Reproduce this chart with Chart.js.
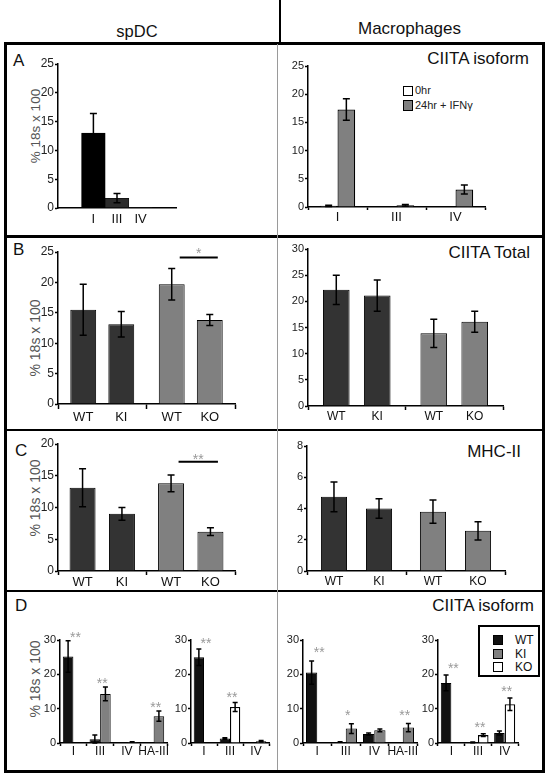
<!DOCTYPE html>
<html>
<head>
<meta charset="utf-8">
<script src="https://cdn.jsdelivr.net/npm/chart.js@4.4.0/dist/chart.umd.min.js"></script>
<style>
  html, body { margin: 0; padding: 0; background: #fff; }
  #fig { position: relative; width: 550px; height: 783px; overflow: hidden; background: #fff;
         font-family: "Liberation Sans", Arial, Helvetica, sans-serif; }
  .ln { position: absolute; background: #000; }
  .tx { position: absolute; white-space: nowrap; color: #111; }
  .sw { position: absolute; box-sizing: border-box; border: 1.5px solid #000; }
  canvas { position: absolute; }
</style>
</head>
<body>
<div id="fig"></div>
<script>
// ---------------- DATA ----------------
// Panel A: CIITA isoforms
const isoformsA = ['I', 'III', 'IV'];
const spdcIsoform = [13.0, 1.7, 0.1];
const spdcIsoformErr = [3.4, 0.8, 0];
const timeLabels = ['0hr', '24hr + IFNγ'];
const macIsoform0hr = [0.2, 0.1, 0.1];
const macIsoform0hrErr = [0.1, 0, 0];
const macIsoform24hr = [17.3, 0.3, 3.1];
const macIsoform24hrErr = [1.9, 0.15, 0.8];

// Panels B & C: WT / KI / WT / KO
const genotypes = ['WT', 'KI', 'WT', 'KO'];
const spdcTotal = [15.5, 13.1, 19.7, 13.8];
const spdcTotalErr = [4.2, 2.1, 2.6, 0.9];
const macTotal = [22.2, 21.1, 13.9, 16.1];
const macTotalErr = [2.8, 3.0, 2.7, 2.0];
const spdcMHC = [13.1, 9.0, 13.8, 6.2];
const spdcMHCErr = [3.0, 1.0, 1.3, 0.6];
const macMHC = [4.75, 4.0, 3.8, 2.57];
const macMHCErr = [0.95, 0.62, 0.75, 0.58];

// Panel D: isoforms in WT vs KI / WT vs KO
const isoformsKI = ['I', 'III', 'IV', 'HA-III'];
const isoformsKO = ['I', 'III', 'IV'];
const legendD = ['WT', 'KI', 'KO'];
const spdcKI_WT = [25.2, 1.1, 0.3, 0.1];
const spdcKI_WTErr = [4.6, 1.2, 0, 0];
const spdcKI_KI = [0.1, 14.3, 0.3, 7.8];
const spdcKI_KIErr = [0, 2.0, 0.1, 1.5];
const spdcKI_stars = ['**', '**', '', '**'];
const spdcKO_WT = [25.0, 1.3, 0.1];
const spdcKO_WTErr = [2.4, 0.2, 0];
const spdcKO_KO = [0.1, 10.5, 0.5];
const spdcKO_KOErr = [0, 1.3, 0.2];
const spdcKO_stars = ['**', '**', ''];
const macKI_WT = [20.5, 0.3, 2.6, 0];
const macKI_WTErr = [3.4, 0.1, 0.3, 0];
const macKI_KI = [0, 4.2, 3.7, 4.5];
const macKI_KIErr = [0, 1.4, 0.4, 1.2];
const macKI_stars = ['**', '*', '', '**'];
const macKO_WT = [17.5, 0.2, 2.9];
const macKO_WTErr = [2.3, 0.1, 0.6];
const macKO_KO = [0, 2.3, 11.3];
const macKO_KOErr = [0, 0.4, 1.8];
const macKO_stars = ['**', '**', '**'];

// ---------------- STYLE ----------------
const FONT = '"Liberation Sans", Arial, Helvetica, sans-serif';
const BLACK = '#111111', DARK = '#333333', GRAY = '#808080', WHITE = '#ffffff';
const STAR = '#999999';
const FIG = document.getElementById('fig');

function line(x, y, w, h, color) {
  const d = document.createElement('div');
  d.className = 'ln';
  d.style.cssText = `left:${x}px;top:${y}px;width:${w}px;height:${h}px;` + (color ? `background:${color};` : '');
  FIG.appendChild(d);
}
function text(str, x, y, size, align, color, rotate) {
  const d = document.createElement('div');
  d.className = 'tx';
  d.textContent = str;
  let css = `font-size:${size}px;line-height:${size}px;height:${size}px;top:${y - size / 2}px;`;
  if (color) css += `color:${color};`;
  if (rotate) {
    css = `font-size:${size}px;line-height:${size}px;left:${x}px;top:${y}px;transform:translate(-50%,-50%) rotate(-90deg);` + (color ? `color:${color};` : '');
  } else if (align === 'right') css += `right:${550 - x}px;`;
  else if (align === 'center') css += `left:${x}px;transform:translateX(-50%);`;
  else css += `left:${x}px;`;
  d.style.cssText = css;
  FIG.appendChild(d);
}
function swatch(x, y, w, h, color, bw) {
  const d = document.createElement('div');
  d.className = 'sw';
  d.style.cssText = `left:${x}px;top:${y}px;width:${w}px;height:${h}px;background:${color};` + (bw ? `border-width:${bw}px;` : '');
  FIG.appendChild(d);
}

// ---------------- PLUGINS ----------------
const errorBarPlugin = {
  id: 'errorBars',
  afterDatasetsDraw(chart, args, opts) {
    const ctx = chart.ctx, y = chart.scales.y;
    const cap = opts.cap || 3.5;
    ctx.save();
    ctx.strokeStyle = '#000';
    ctx.lineWidth = opts.width || 1.5;
    chart.data.datasets.forEach((ds, di) => {
      if (!ds.errors) return;
      chart.getDatasetMeta(di).data.forEach((bar, i) => {
        const v = ds.data[i], e = ds.errors[i];
        if (v == null || !e) return;
        const x = bar.x;
        const yt = y.getPixelForValue(v + e), yb = y.getPixelForValue(Math.max(0, v - e));
        ctx.beginPath();
        ctx.moveTo(x, yt); ctx.lineTo(x, yb);
        ctx.moveTo(x - cap, yt); ctx.lineTo(x + cap, yt);
        ctx.moveTo(x - cap, yb); ctx.lineTo(x + cap, yb);
        ctx.stroke();
      });
    });
    ctx.restore();
  }
};

// labels under each individual bar (grouped WT/KI, WT/KO charts)
const barLabelPlugin = {
  id: 'barLabels',
  afterDraw(chart, args, opts) {
    if (!opts.labels) return;
    const ctx = chart.ctx;
    const nG = chart.data.labels.length, nD = chart.data.datasets.length;
    ctx.save();
    ctx.font = `${opts.size}px ${FONT}`;
    ctx.fillStyle = '#111';
    ctx.textAlign = 'center';
    ctx.textBaseline = 'middle';
    for (let g = 0; g < nG; g++) {
      for (let d = 0; d < nD; d++) {
        const bar = chart.getDatasetMeta(d).data[g];
        ctx.fillText(opts.labels[g * nD + d], bar.x, chart.chartArea.bottom + opts.offset);
      }
    }
    ctx.restore();
  }
};

// significance bracket between two bars
const sigPlugin = {
  id: 'sig',
  afterDatasetsDraw(chart, args, opts) {
    if (!opts.marks) return;
    const ctx = chart.ctx, y = chart.scales.y;
    ctx.save();
    opts.marks.forEach(m => {
      const b1 = chart.getDatasetMeta(m.from[0]).data[m.from[1]];
      const b2 = chart.getDatasetMeta(m.to[0]).data[m.to[1]];
      const py = y.getPixelForValue(m.value);
      const x1 = b1.x + opts.shift, x2 = b2.x + opts.shift;
      ctx.strokeStyle = '#000';
      ctx.lineWidth = 2;
      ctx.beginPath(); ctx.moveTo(x1, py); ctx.lineTo(x2, py); ctx.stroke();
      ctx.font = `14px ${FONT}`;
      ctx.fillStyle = STAR;
      ctx.textAlign = 'center';
      ctx.textBaseline = 'alphabetic';
      ctx.fillText(m.text, (x1 + x2) / 2, py - opts.gap + 0.58 * 14);
    });
    ctx.restore();
  }
};

// asterisks above each category
const starPlugin = {
  id: 'stars',
  afterDatasetsDraw(chart, args, opts) {
    if (!opts.stars) return;
    const ctx = chart.ctx, xs = chart.scales.x, ys = chart.scales.y;
    ctx.save();
    ctx.font = `14px ${FONT}`;
    ctx.fillStyle = STAR;
    ctx.textAlign = 'center';
    ctx.textBaseline = 'alphabetic';
    opts.stars.forEach((s, i) => {
      if (!s) return;
      let top = Infinity;
      chart.data.datasets.forEach(ds => {
        const v = ds.data[i];
        if (v == null) return;
        const e = ds.errors ? (ds.errors[i] || 0) : 0;
        top = Math.min(top, ys.getPixelForValue(v + e));
      });
      ctx.fillText(s, xs.getPixelForValue(i) + 2, top - opts.gap + 0.58 * 14);
    });
    ctx.restore();
  }
};

function addChart(spec) {
  const yw = 30, pt = 10, pr = 12, xh = spec.xh || 24;
  const left = spec.axisL - yw, top = spec.yTop - pt;
  const w = spec.axisR + pr - left, h = spec.yBot + xh - top;
  const cv = document.createElement('canvas');
  cv.width = w; cv.height = h;
  cv.style.cssText = `left:${left}px;top:${top}px;width:${w}px;height:${h}px;`;
  FIG.appendChild(cv);
  spec.datasets.forEach(ds => {
    ds.categoryPercentage = spec.catPct;
    ds.barPercentage = spec.barPct;
    ds.borderColor = '#000';
    ds.borderWidth = ds.borderWidth || 1;
  });
  return new Chart(cv.getContext('2d'), {
    type: 'bar',
    data: { labels: spec.labels, datasets: spec.datasets },
    options: {
      responsive: false, animation: false, devicePixelRatio: 1,
      layout: { padding: { left: 0, top: pt, right: pr, bottom: 0 } },
      plugins: {
        legend: { display: false }, tooltip: { enabled: false },
        errorBars: { cap: spec.cap || 3.5 },
        barLabels: spec.barLabels || {},
        sig: spec.sig || {},
        stars: spec.stars || {}
      },
      scales: {
        x: {
          z: 1, offset: true,
          grid: { display: true, offset: true, drawOnChartArea: false, drawTicks: spec.xTick > 0,
                  tickLength: spec.xTick || 0, tickColor: '#000', tickWidth: 1.5 },
          border: { display: true, color: '#000', width: 1.5 },
          ticks: { display: spec.showX !== false, autoSkip: false, maxRotation: 0, minRotation: 0,
                   padding: spec.xPad || 0, color: '#111', font: { family: FONT, size: spec.xFont || 12 } },
          afterFit(s) { s.height = xh; }
        },
        y: {
          z: 1, min: 0, max: spec.max,
          grid: { display: true, drawOnChartArea: false, drawTicks: true, tickLength: 3, tickColor: '#000', tickWidth: 1.5 },
          border: { display: true, color: '#000', width: 1.5 },
          ticks: { stepSize: spec.step, padding: 1, color: '#222', font: { family: FONT, size: spec.yFont || 12 } },
          afterFit(s) { s.width = yw; }
        }
      }
    },
    plugins: [errorBarPlugin, barLabelPlugin, sigPlugin, starPlugin]
  });
}

// grouped datasets from a 4-value genotype array: [WT, mutant] x [KI group, KO group]
function pairSets(vals, errs) {
  return [
    { data: [vals[0], vals[2]], errors: [errs[0], errs[2]], backgroundColor: [DARK, GRAY] },
    { data: [vals[1], vals[3]], errors: [errs[1], errs[3]], backgroundColor: [DARK, GRAY] }
  ];
}
const groups = ['knock-in', 'knock-out'];

// ---------------- FRAME & TEXT ----------------
line(279, 0, 2, 42);
line(4, 42, 541, 2.5);
line(4, 42, 2.5, 730);
line(542.3, 42, 2.5, 730);
line(4, 769.5, 541, 3);
line(4, 235, 541, 2.5);
line(4, 428.5, 541, 2.5);
line(4, 589.5, 541, 2.5);
line(276.5, 44, 1.5, 726, '#9a9a9a');

text('spDC', 137, 31.5, 16.5, 'center');
text('Macrophages', 409.5, 28, 17, 'center');

text('A', 13, 60, 17);
text('B', 13, 249, 17);
text('C', 15, 450, 17);
text('D', 15, 605, 17);

text('CIITA isoform', 529, 58, 17, 'right');
text('CIITA Total', 530, 252.5, 17, 'right');
text('MHC-II', 521, 451.5, 17, 'right');
text('CIITA isoform', 534, 605.3, 17, 'right');

const yTitle = '% 18s x 100';
text(yTitle, 35.5, 125.5, 13.5, null, '#555555', true);
text(yTitle, 35, 338, 14, null, '#555555', true);
text(yTitle, 35, 498, 14, null, '#555555', true);
text(yTitle, 35, 679, 14, null, '#555555', true);

// legend panel A (macrophages)
swatch(402.7, 85.7, 10, 10, WHITE);
swatch(402.7, 100.3, 10, 10.5, GRAY);
text(timeLabels[0], 415, 90.7, 11, 'left', '#222');
text(timeLabels[1], 415, 105.5, 11, 'left', '#222');

// legend panel D
const lg = document.createElement('div');
lg.style.cssText = 'position:absolute;left:478px;top:625px;width:62px;height:52px;box-sizing:border-box;border:2px solid #000;';
FIG.appendChild(lg);
const legendColors = [BLACK, GRAY, WHITE];
legendD.forEach((lab, i) => {
  swatch(493, 635 + i * 13.7, 10, 10, legendColors[i], 1);
  text(lab, 515, 640 + i * 13.5, 12, 'left', '#111');
});

// ---------------- CHARTS ----------------
// A left: spDC isoforms
addChart({
  axisL: 58, axisR: 176, yTop: 64, yBot: 208, max: 25, step: 5,
  labels: ['', ...isoformsA, ''],
  datasets: [{ data: [null, ...spdcIsoform, null], errors: [null, ...spdcIsoformErr, null],
               backgroundColor: ['#000', '#000', '#2b2b2b', '#2b2b2b', '#000'], borderWidth: 0.5 }],
  catPct: 1, barPct: 1, xFont: 13, xTick: 0, xPad: 4, yFont: 12, cap: 3.5
});
// A right: macrophage isoforms
addChart({
  axisL: 308, axisR: 485, yTop: 66, yBot: 207, max: 25, step: 5,
  labels: isoformsA,
  datasets: [
    { label: timeLabels[0], data: macIsoform0hr, errors: macIsoform0hrErr, backgroundColor: WHITE, borderWidth: 1.5 },
    { label: timeLabels[1], data: macIsoform24hr, errors: macIsoform24hrErr, backgroundColor: GRAY, borderWidth: 1.2 }
  ],
  catPct: 0.6, barPct: 1, xFont: 13, xTick: 3, xPad: 0, yFont: 11, cap: 3.5
});
// B left: spDC CIITA total
addChart({
  axisL: 58, axisR: 235, yTop: 252, yBot: 404, max: 25, step: 5,
  labels: groups, datasets: pairSets(spdcTotal, spdcTotalErr),
  catPct: 0.86, barPct: 0.68, showX: false, xTick: 5, yFont: 12, cap: 3.5,
  barLabels: { labels: genotypes, size: 13, offset: 13 },
  sig: { marks: [{ from: [0, 1], to: [1, 1], value: 24.1, text: '*' }], shift: 8, gap: 8 }
});
// B right: macrophage CIITA total
addChart({
  axisL: 308, axisR: 503, yTop: 249, yBot: 406, max: 30, step: 5,
  labels: groups, datasets: pairSets(macTotal, macTotalErr),
  catPct: 0.84, barPct: 0.65, showX: false, xTick: 4, yFont: 11, cap: 3.5,
  barLabels: { labels: genotypes, size: 12, offset: 10.5 }
});
// C left: spDC MHC-II
addChart({
  axisL: 58, axisR: 235, yTop: 444, yBot: 571, max: 20, step: 5,
  labels: groups, datasets: pairSets(spdcMHC, spdcMHCErr),
  catPct: 0.89, barPct: 0.66, showX: false, xTick: 4, yFont: 12, cap: 3.5,
  barLabels: { labels: genotypes, size: 13, offset: 11 },
  sig: { marks: [{ from: [0, 1], to: [1, 1], value: 17.2, text: '**' }], shift: 7.5, gap: 6 }
});
// C right: macrophage MHC-II
addChart({
  axisL: 307, axisR: 505, yTop: 446, yBot: 571, max: 8, step: 2,
  labels: groups, datasets: pairSets(macMHC, macMHCErr),
  catPct: 0.91, barPct: 0.58, showX: false, xTick: 4, yFont: 11, cap: 3.5,
  barLabels: { labels: genotypes, size: 12, offset: 10.5 }
});
// D: four isoform charts
const dCommon = { yTop: 640, yBot: 743, max: 30, step: 10, catPct: 0.79, barPct: 1,
                  xFont: 12, xTick: 3, xPad: -2, yFont: 11, cap: 2.5, xh: 18 };
addChart(Object.assign({}, dCommon, {
  axisL: 60, axisR: 167, labels: isoformsKI,
  datasets: [
    { label: legendD[0], data: spdcKI_WT, errors: spdcKI_WTErr, backgroundColor: BLACK },
    { label: legendD[1], data: spdcKI_KI, errors: spdcKI_KIErr, backgroundColor: GRAY }
  ],
  stars: { stars: spdcKI_stars, gap: 7 }
}));
addChart(Object.assign({}, dCommon, {
  axisL: 191, axisR: 269, labels: isoformsKO,
  datasets: [
    { label: legendD[0], data: spdcKO_WT, errors: spdcKO_WTErr, backgroundColor: BLACK },
    { label: legendD[2], data: spdcKO_KO, errors: spdcKO_KOErr, backgroundColor: WHITE, borderWidth: 1.3 }
  ],
  stars: { stars: spdcKO_stars, gap: 9 }
}));
addChart(Object.assign({}, dCommon, {
  axisL: 303, axisR: 417, labels: isoformsKI,
  datasets: [
    { label: legendD[0], data: macKI_WT, errors: macKI_WTErr, backgroundColor: BLACK },
    { label: legendD[1], data: macKI_KI, errors: macKI_KIErr, backgroundColor: GRAY }
  ],
  stars: { stars: macKI_stars, gap: 12 }
}));
addChart(Object.assign({}, dCommon, {
  axisL: 438, axisR: 518, labels: isoformsKO,
  datasets: [
    { label: legendD[0], data: macKO_WT, errors: macKO_WTErr, backgroundColor: BLACK },
    { label: legendD[2], data: macKO_KO, errors: macKO_KOErr, backgroundColor: WHITE, borderWidth: 1.3 }
  ],
  stars: { stars: macKO_stars, gap: 10 }
}));
</script>
</body>
</html>
